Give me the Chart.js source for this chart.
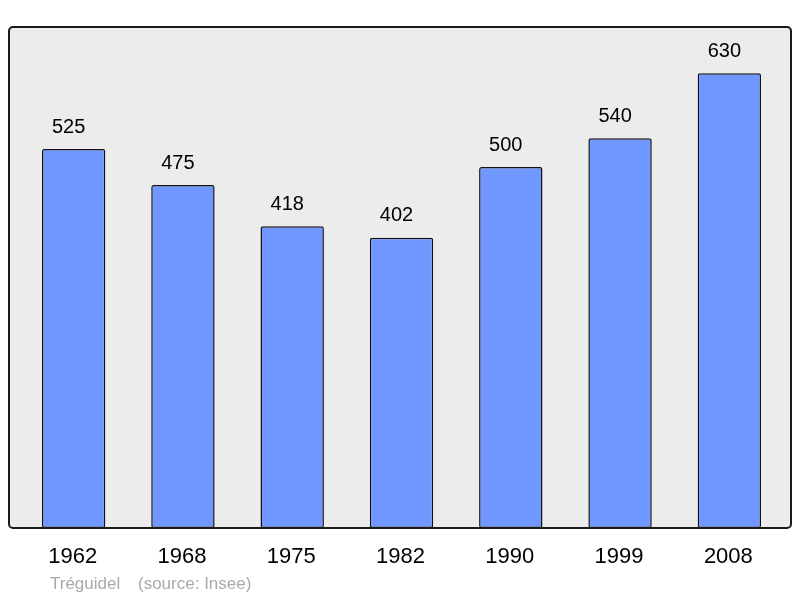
<!DOCTYPE html>
<html>
<head>
<meta charset="utf-8">
<script src="https://cdn.jsdelivr.net/npm/chart.js@4"></script>
<style>
  html, body { margin: 0; padding: 0; background: #fff; }
  #wrap { width: 800px; height: 598px; }
</style>
</head>
<body>
<div id="wrap"><canvas id="chart"></canvas></div>
<script>
const years = ["1962", "1968", "1975", "1982", "1990", "1999", "2008"];
const population = [525, 475, 418, 402, 500, 540, 630];
const footerLabels = ["Tréguidel", "(source: Insee)"];

// frame, value labels, year labels and footer
const decorations = {
  id: "decorations",
  beforeDraw(chart) {
    const ctx = chart.ctx;
    ctx.save();
    ctx.beginPath();
    ctx.roundRect(9, 27, 782, 501, 4);
    ctx.fillStyle = "#ececec";
    ctx.fill();
    ctx.restore();
  },
  afterDraw(chart) {
    const ctx = chart.ctx;
    const meta = chart.getDatasetMeta(0);
    const yScale = chart.scales.y;
    ctx.save();
    ctx.beginPath();
    ctx.roundRect(9, 27, 782, 501, 4);
    ctx.lineWidth = 2;
    ctx.strokeStyle = "#1a1a1a";
    ctx.stroke();

    ctx.fillStyle = "#000";
    ctx.textAlign = "center";
    ctx.textBaseline = "middle";
    ctx.font = "20px 'Liberation Sans', Arial, sans-serif";
    meta.data.forEach((bar, i) => {
      ctx.fillText(String(population[i]), bar.x - 5, yScale.getPixelForValue(population[i]) - 22);
    });

    ctx.font = "22px 'Liberation Sans', Arial, sans-serif";
    meta.data.forEach((bar, i) => {
      ctx.fillText(years[i], bar.x - 1, 557);
    });

    ctx.fillStyle = "#aaaaaa";
    ctx.textAlign = "left";
    ctx.font = "17px 'Liberation Sans', Arial, sans-serif";
    ctx.fillText(footerLabels[0], 50, 584);
    ctx.fillText(footerLabels[1], 138, 584);
    ctx.restore();
  }
};

new Chart(document.getElementById("chart"), {
  type: "bar",
  data: {
    labels: years,
    datasets: [{
      data: population,
      backgroundColor: "#7096ff",
      borderColor: "#111",
      borderWidth: 1.5,
      borderRadius: 2,
      borderSkipped: false,
      barPercentage: 0.58,
      categoryPercentage: 1
    }]
  },
  options: {
    responsive: true,
    maintainAspectRatio: false,
    animation: false,
    layout: { padding: { left: 19, right: 16, top: 27, bottom: 70 } },
    plugins: { legend: { display: false }, tooltip: { enabled: false } },
    scales: {
      x: { display: false },
      y: { display: false, min: 0, max: 694 }
    }
  },
  plugins: [decorations]
});
</script>
</body>
</html>
